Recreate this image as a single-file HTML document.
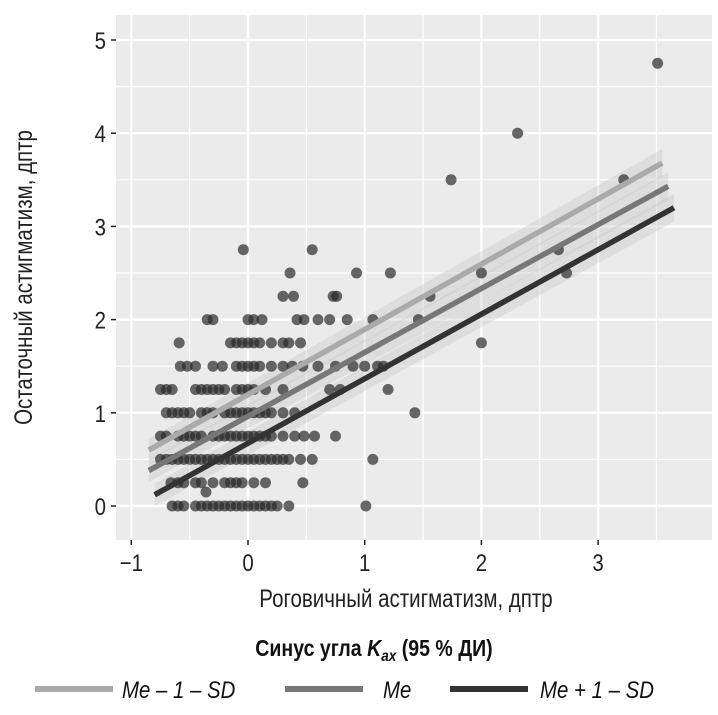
<!DOCTYPE html>
<html><head><meta charset="utf-8"><style>
body{margin:0;background:#fff;}
svg text{font-family:"Liberation Sans",sans-serif;}
</style></head><body>
<svg id="c" width="718" height="710"></svg>
<script>
const xTicks=[-1,0,1,2,3];
const yTicks=[0,1,2,3,4,5];
const seriesNames=["Me – 1 – SD","Me","Me + 1 – SD"];
const lineX0=[-0.85,-0.85,-0.8];
const lineY0=[0.6,0.38,0.12];
const lineX1=[3.55,3.6,3.65];
const lineY1=[3.68,3.43,3.2];
const rowY=[0,0.15,0.25,0.5,0.75,1,1.25,1.5,1.75,2,2.25,2.5,2.75,3.5,4,3.5,4.75];
const rowX=[
 [-0.65,-0.6,-0.55,-0.45,-0.4,-0.35,-0.3,-0.25,-0.2,-0.15,-0.1,-0.05,0,0.05,0.1,0.15,0.2,0.25,0.35,1.01],
 [-0.36],
 [-0.66,-0.6,-0.55,-0.45,-0.4,-0.3,-0.2,-0.15,-0.1,-0.05,0.05,0.15,0.47],
 [-0.75,-0.7,-0.65,-0.6,-0.55,-0.5,-0.45,-0.4,-0.35,-0.3,-0.25,-0.2,-0.15,-0.1,-0.05,0,0.05,0.1,0.15,0.2,0.25,0.3,0.35,0.45,0.55,1.07],
 [-0.75,-0.7,-0.6,-0.55,-0.5,-0.45,-0.4,-0.3,-0.25,-0.2,-0.15,-0.1,-0.05,0,0.05,0.1,0.15,0.2,0.3,0.4,0.48,0.57,0.75],
 [-0.7,-0.65,-0.6,-0.55,-0.5,-0.4,-0.35,-0.3,-0.2,-0.15,-0.1,-0.05,0,0.05,0.1,0.15,0.2,0.3,0.4,1.43],
 [-0.75,-0.7,-0.65,-0.45,-0.4,-0.35,-0.3,-0.25,-0.2,-0.1,-0.05,0,0.05,0.15,0.3,0.7,0.79,1.2],
 [-0.58,-0.52,-0.45,-0.3,-0.22,-0.1,-0.05,0,0.05,0.1,0.2,0.3,0.38,0.47,0.6,0.75,0.9,1.0,1.11,1.16],
 [-0.59,-0.15,-0.1,-0.05,0,0.05,0.1,0.2,0.3,0.35,0.45,2.0],
 [-0.35,-0.3,0,0.05,0.12,0.42,0.48,0.6,0.7,0.85,1.07,1.46],
 [0.3,0.39,0.73,0.76,1.56],
 [0.36,0.93,1.22,2.0,2.73],
 [-0.04,0.55,2.66],
 [1.74],[2.31],[3.22],[3.51]
];
const S="http://www.w3.org/2000/svg";
const svg=document.getElementById('c');
const L=116,R=712,T=15,B=540;
const sx=v=>248+v*116.7;
const sy=v=>506-v*93.2;
function el(t,a,p){const e=document.createElementNS(S,t);for(const k in a)e.setAttribute(k,a[k]);(p||svg).appendChild(e);return e;}
const panel=el('rect',{x:L,y:T,width:R-L,height:B-T,fill:'#ebebeb'});


for(let i=0;i<xTicks.length;i++){el('line',{x1:sx(xTicks[i]+0.5),x2:sx(xTicks[i]+0.5),y1:T,y2:B,stroke:'#fff','stroke-width':1.2});}
for(let i=0;i<yTicks.length-1;i++){el('line',{y1:sy(yTicks[i]+0.5),y2:sy(yTicks[i]+0.5),x1:L,x2:R,stroke:'#fff','stroke-width':1.2});}
xTicks.forEach(v=>{const g=el('line',{x1:sx(v),x2:sx(v),y1:T,y2:B,stroke:'#fff','stroke-width':2.4});
 
 el('line',{x1:sx(v),x2:sx(v),y1:B,y2:B+5,stroke:'#222','stroke-width':1.5});
 const t=el('text',{x:0,y:0,'text-anchor':'middle','font-size':24,fill:'#222',transform:`translate(${sx(v)},${B+31}) scale(0.85,1)`});t.textContent=v<0?'−'+(-v):v;
 });
yTicks.forEach(v=>{const g=el('line',{y1:sy(v),y2:sy(v),x1:L,x2:R,stroke:'#fff','stroke-width':2.4});
 
 el('line',{y1:sy(v),y2:sy(v),x1:L-5,x2:L,stroke:'#222','stroke-width':1.5});
 const t=el('text',{x:0,y:0,'text-anchor':'end','font-size':24,fill:'#222',transform:`translate(${L-10},${sy(v)+9}) scale(0.85,1)`});t.textContent=v;
 });
const cols=['#aaaaaa','#777777','#333333'];
for(let i=0;i<3;i++){
 const w0=0.12,w1=0.15;
 const r=el('polygon',{points:`${sx(lineX0[i])},${sy(lineY0[i]+w0)} ${sx(lineX1[i])},${sy(lineY1[i]+w1)} ${sx(lineX1[i])},${sy(lineY1[i]-w1)} ${sx(lineX0[i])},${sy(lineY0[i]-w0)}`,fill:'#c4c4c4','fill-opacity':0.35});
 
}
rowY.forEach((y,i)=>rowX[i].forEach(x=>{const c=el('circle',{cx:sx(x),cy:sy(y),r:5.5,fill:'#2a2a2a','fill-opacity':0.7});
 }));
for(let i=0;i<3;i++){
 const l=el('line',{x1:sx(lineX0[i]),y1:sy(lineY0[i]),x2:sx(lineX1[i]),y2:sy(lineY1[i]),stroke:cols[i],'stroke-width':5.5});
 
}
let t=el('text',{x:0,y:0,'text-anchor':'middle','font-size':25,fill:'#222',transform:`translate(406,607) scale(0.82,1)`});t.textContent='Роговичный астигматизм, дптр';

t=el('text',{x:0,y:0,'text-anchor':'middle','font-size':25,fill:'#222','transform':`translate(32,${(T+B)/2}) rotate(-90) scale(0.82,1)`});t.textContent='Остаточный астигматизм, дптр';

t=el('text',{x:0,y:0,'text-anchor':'middle','font-size':23,'font-weight':'bold',fill:'#111','transform':`translate(374,656) scale(0.85,1)`});
t.innerHTML='Синус угла <tspan font-style="italic">K</tspan><tspan font-style="italic" font-size="16" dy="5">ax</tspan><tspan dy="-5"> (95 % ДИ)</tspan>';

const lx=[35,285,450],tx=[122,383,540];
for(let i=0;i<3;i++){
 const s=el('line',{x1:lx[i],x2:lx[i]+78,y1:689,y2:689,stroke:cols[i],'stroke-width':6});
 
 const lt=el('text',{x:0,y:0,'font-size':24,'font-style':'italic',fill:'#111','transform':`translate(${tx[i]},698) scale(0.85,1)`});lt.textContent=seriesNames[i];
 
}
</script>
</body></html>
